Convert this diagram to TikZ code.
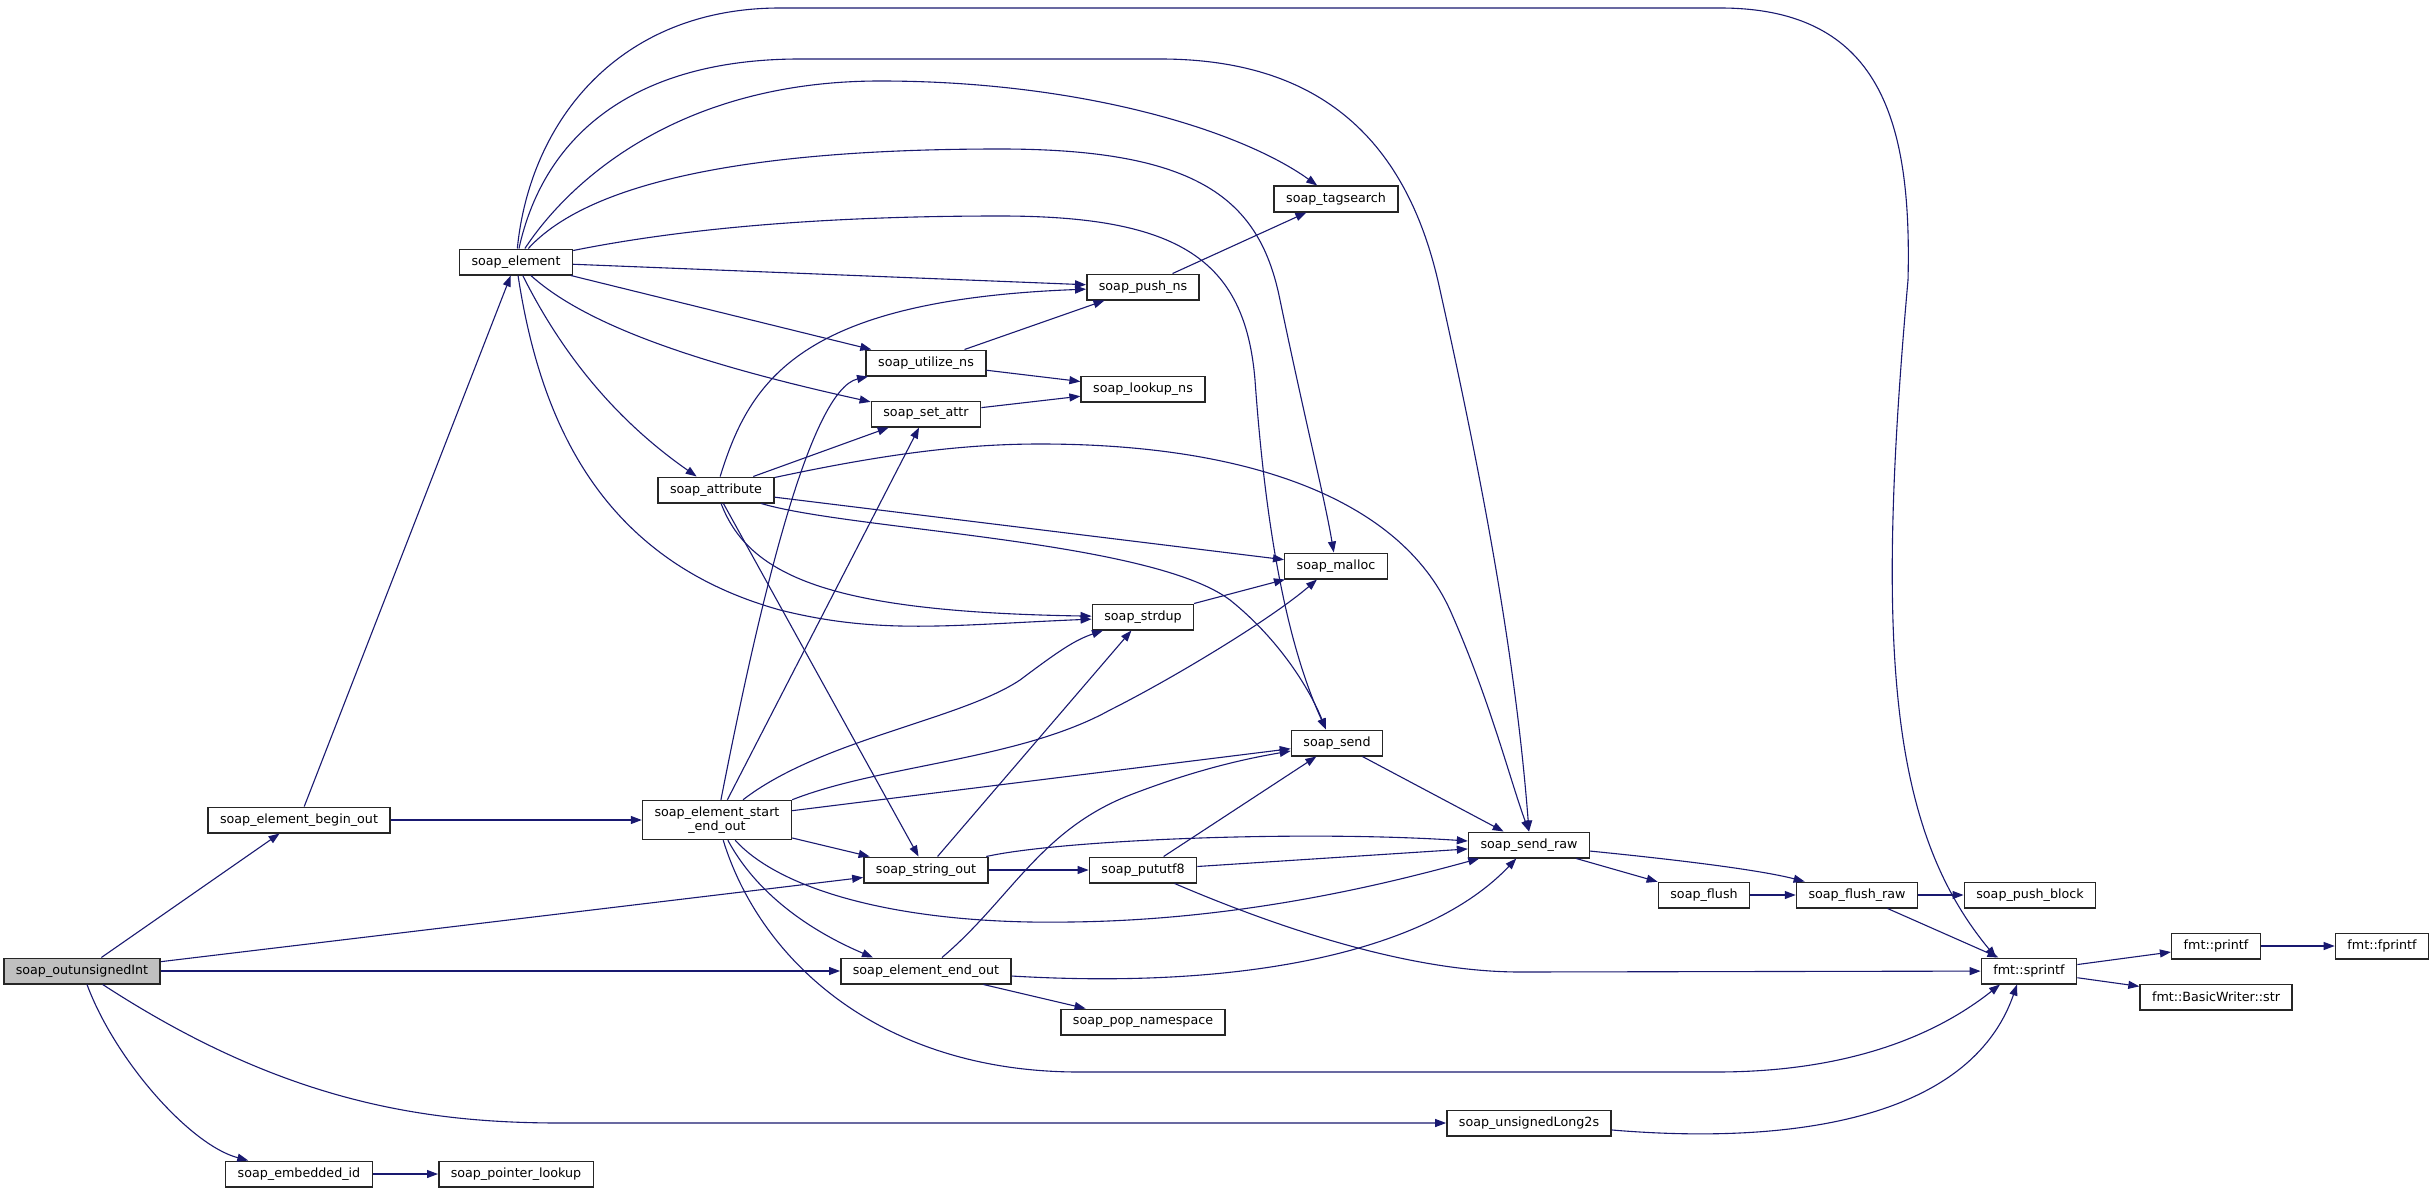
\documentclass[tikz,border=0pt]{standalone}
\usepackage{fontspec}
\setmainfont{DejaVu Sans}
\usetikzlibrary{arrows.meta}
\definecolor{edgecol}{RGB}{25,25,112}
\definecolor{rootfill}{RGB}{191,191,191}
\tikzstyle{fn}=[draw=black!85,line width=1.5pt,fill=white,inner xsep=12pt,inner ysep=0pt,minimum height=25.5pt,font=\fontsize{12.7}{13.8}\selectfont]
\tikzstyle{call}=[-{Triangle[length=11pt,width=8pt]},line width=1.1pt,edgecol]

\begin{document}
\begin{tikzpicture}[x=1pt,y=-1pt]
    \path[use as bounding box,fill=white] (0,0) rectangle (2432,1193);

    \node[fn,fill=rootfill] (outuint) at (82,971) {soap\_outunsignedInt};
    \node[fn] (beginout) at (299,820) {soap\_element\_begin\_out};
    \node[fn,align=center,minimum height=39pt] (startend) at (717,820) {soap\_element\_start\\\_end\_out};
    \node[fn] (embid) at (299,1174) {soap\_embedded\_id};
    \node[fn] (ptrlookup) at (516,1174) {soap\_pointer\_lookup};
    \node[fn] (element) at (516,262) {soap\_element};
    \node[fn] (tagsearch) at (1336,199) {soap\_tagsearch};
    \node[fn] (pushns) at (1143,287) {soap\_push\_ns};
    \node[fn] (utilizens) at (926,363) {soap\_utilize\_ns};
    \node[fn] (lookupns) at (1143,389) {soap\_lookup\_ns};
    \node[fn] (setattr) at (926,414) {soap\_set\_attr};
    \node[fn] (attribute) at (716,490) {soap\_attribute};
    \node[fn] (malloc) at (1336,566) {soap\_malloc};
    \node[fn] (strdup) at (1143,617) {soap\_strdup};
    \node[fn] (send) at (1337,743) {soap\_send};
    \node[fn] (stringout) at (926,870) {soap\_string\_out};
    \node[fn] (pututf) at (1143,870) {soap\_pututf8};
    \node[fn] (endout) at (926,971) {soap\_element\_end\_out};
    \node[fn] (popns) at (1143,1022) {soap\_pop\_namespace};
    \node[fn] (sendraw) at (1529,845) {soap\_send\_raw};
    \node[fn] (flush) at (1704,895) {soap\_flush};
    \node[fn] (flushraw) at (1857,895) {soap\_flush\_raw};
    \node[fn] (pushblock) at (2030,895) {soap\_push\_block};
    \node[fn] (sprintf) at (2029,971) {fmt::sprintf};
    \node[fn] (printf) at (2216,946) {fmt::printf};
    \node[fn] (fprintf) at (2382,946) {fmt::fprintf};
    \node[fn] (bwstr) at (2216,997) {fmt::BasicWriter::str};
    \node[fn] (ulongs) at (1529,1123) {soap\_unsignedLong2s};

    \draw[call] (outuint) -- (beginout);
    \draw[call] (outuint) -- (stringout);
    \draw[call] (outuint) -- (endout);
    \draw[call] (outuint) .. controls (115,1060) and (190,1145) .. (embid);
    \draw[call] (outuint) .. controls (280,1100) and (420,1123) .. (560,1123) -- (ulongs);

    \draw[call] (beginout) -- (element);
    \draw[call] (beginout) -- (startend);

    \draw[call] (element) .. controls (530,120) and (620,8) .. (780,8) -- (1720,8)
        .. controls (1880,8) and (1912,120) .. (1908,280)
        .. controls (1875,650) and (1890,830) .. ([xshift=-33pt]sprintf.north);
    \draw[call] (element) .. controls (545,130) and (640,59) .. (800,59) -- (1160,59)
        .. controls (1330,59) and (1410,150) .. (1440,290)
        .. controls (1480,470) and (1515,650) .. (sendraw.north);
    \draw[call] (element) .. controls (570,180) and (680,81) .. (880,81)
        .. controls (1080,81) and (1240,130) .. (tagsearch);
    \draw[call] (element) .. controls (600,170) and (800,149) .. (1000,149)
        .. controls (1200,149) and (1260,200) .. (1280,300)
        .. controls (1305,420) and (1325,500) .. (malloc);
    \draw[call] (element) .. controls (700,225) and (850,216) .. (1000,216)
        .. controls (1180,216) and (1245,260) .. (1255,380)
        .. controls (1265,520) and (1285,640) .. ([xshift=-11pt]send.north);
    \draw[call] (element) -- (pushns);
    \draw[call] (element) -- (utilizens);
    \draw[call] (element) .. controls (580,320) and (680,360) .. (setattr);
    \draw[call] (element) .. controls (570,370) and (630,430) .. (attribute);
    \draw[call] (element) .. controls (540,420) and (600,560) .. (780,610)
        .. controls (880,635) and (950,625) .. (strdup);

    \draw[call] (pushns) -- (tagsearch);
    \draw[call] (utilizens) -- (pushns);
    \draw[call] (utilizens) -- (lookupns);
    \draw[call] (setattr) -- (lookupns);

    \draw[call] (attribute) .. controls (750,380) and (800,300) .. (pushns);
    \draw[call] (attribute) -- (setattr);
    \draw[call] (attribute) .. controls (880,455) and (960,444) .. (1040,444)
        .. controls (1250,444) and (1400,500) .. (1450,610)
        .. controls (1490,700) and (1510,780) .. (sendraw.north);
    \draw[call] (attribute) -- (malloc);
    \draw[call] (attribute) .. controls (850,530) and (1150,540) .. (1230,600)
        .. controls (1280,640) and (1310,690) .. ([xshift=-11pt]send.north);
    \draw[call] (attribute) .. controls (750,580) and (840,612) .. (strdup);
    \draw[call] (attribute) -- (stringout);

    \draw[call] (startend) .. controls (760,600) and (810,390) .. (utilizens);
    \draw[call] (startend) -- (setattr);
    \draw[call] (startend) .. controls (820,740) and (960,720) .. (1020,680)
        .. controls (1060,650) and (1075,640) .. ([xshift=-40pt]strdup.south);
    \draw[call] (startend.north east) .. controls (880,765) and (1020,760) .. (1110,710)
        .. controls (1170,680) and (1270,620) .. ([xshift=-19pt]malloc.south);
    \draw[call] (startend) -- (send);
    \draw[call] (startend) -- (stringout);
    \draw[call] (startend) .. controls (780,890) and (900,925) .. (1070,922)
        .. controls (1250,920) and (1400,880) .. (sendraw);
    \draw[call] (startend) .. controls (760,900) and (820,935) .. ([xshift=-53pt]endout.north);
    \draw[call] (startend) .. controls (760,960) and (880,1072) .. (1079,1072) -- (1716,1072)
        .. controls (1840,1072) and (1930,1040) .. ([xshift=-29pt]sprintf.south);

    \draw[call] (stringout) -- (strdup);
    \draw[call] (stringout) .. controls (1060,840) and (1300,830) .. (sendraw);
    \draw[call] (stringout) -- (pututf);
    \draw[call] (pututf) -- (send);
    \draw[call] (pututf) -- (sendraw);
    \draw[call] (pututf) .. controls (1260,920) and (1400,972) .. (1520,972) -- (sprintf);

    \draw[call] (endout) .. controls (1010,900) and (1040,830) .. (1130,795)
        .. controls (1200,768) and (1250,758) .. (send);
    \draw[call] (endout) .. controls (1250,990) and (1430,950) .. (sendraw);
    \draw[call] (endout) -- (popns);

    \draw[call] (strdup) -- (malloc);
    \draw[call] (send) -- (sendraw);
    \draw[call] (sendraw) -- (flush);
    \draw[call] (sendraw) .. controls (1680,860) and (1760,870) .. (flushraw);
    \draw[call] (flush) -- (flushraw);
    \draw[call] (flushraw) -- (pushblock);
    \draw[call] (flushraw) -- (sprintf);
    \draw[call] (sprintf) -- (printf);
    \draw[call] (sprintf) -- (bwstr);
    \draw[call] (printf) -- (fprintf);
    \draw[call] (embid) -- (ptrlookup);
    \draw[call] (ulongs) .. controls (1790,1145) and (1970,1120) .. ([xshift=-12pt]sprintf.south);
\end{tikzpicture}
\end{document}
